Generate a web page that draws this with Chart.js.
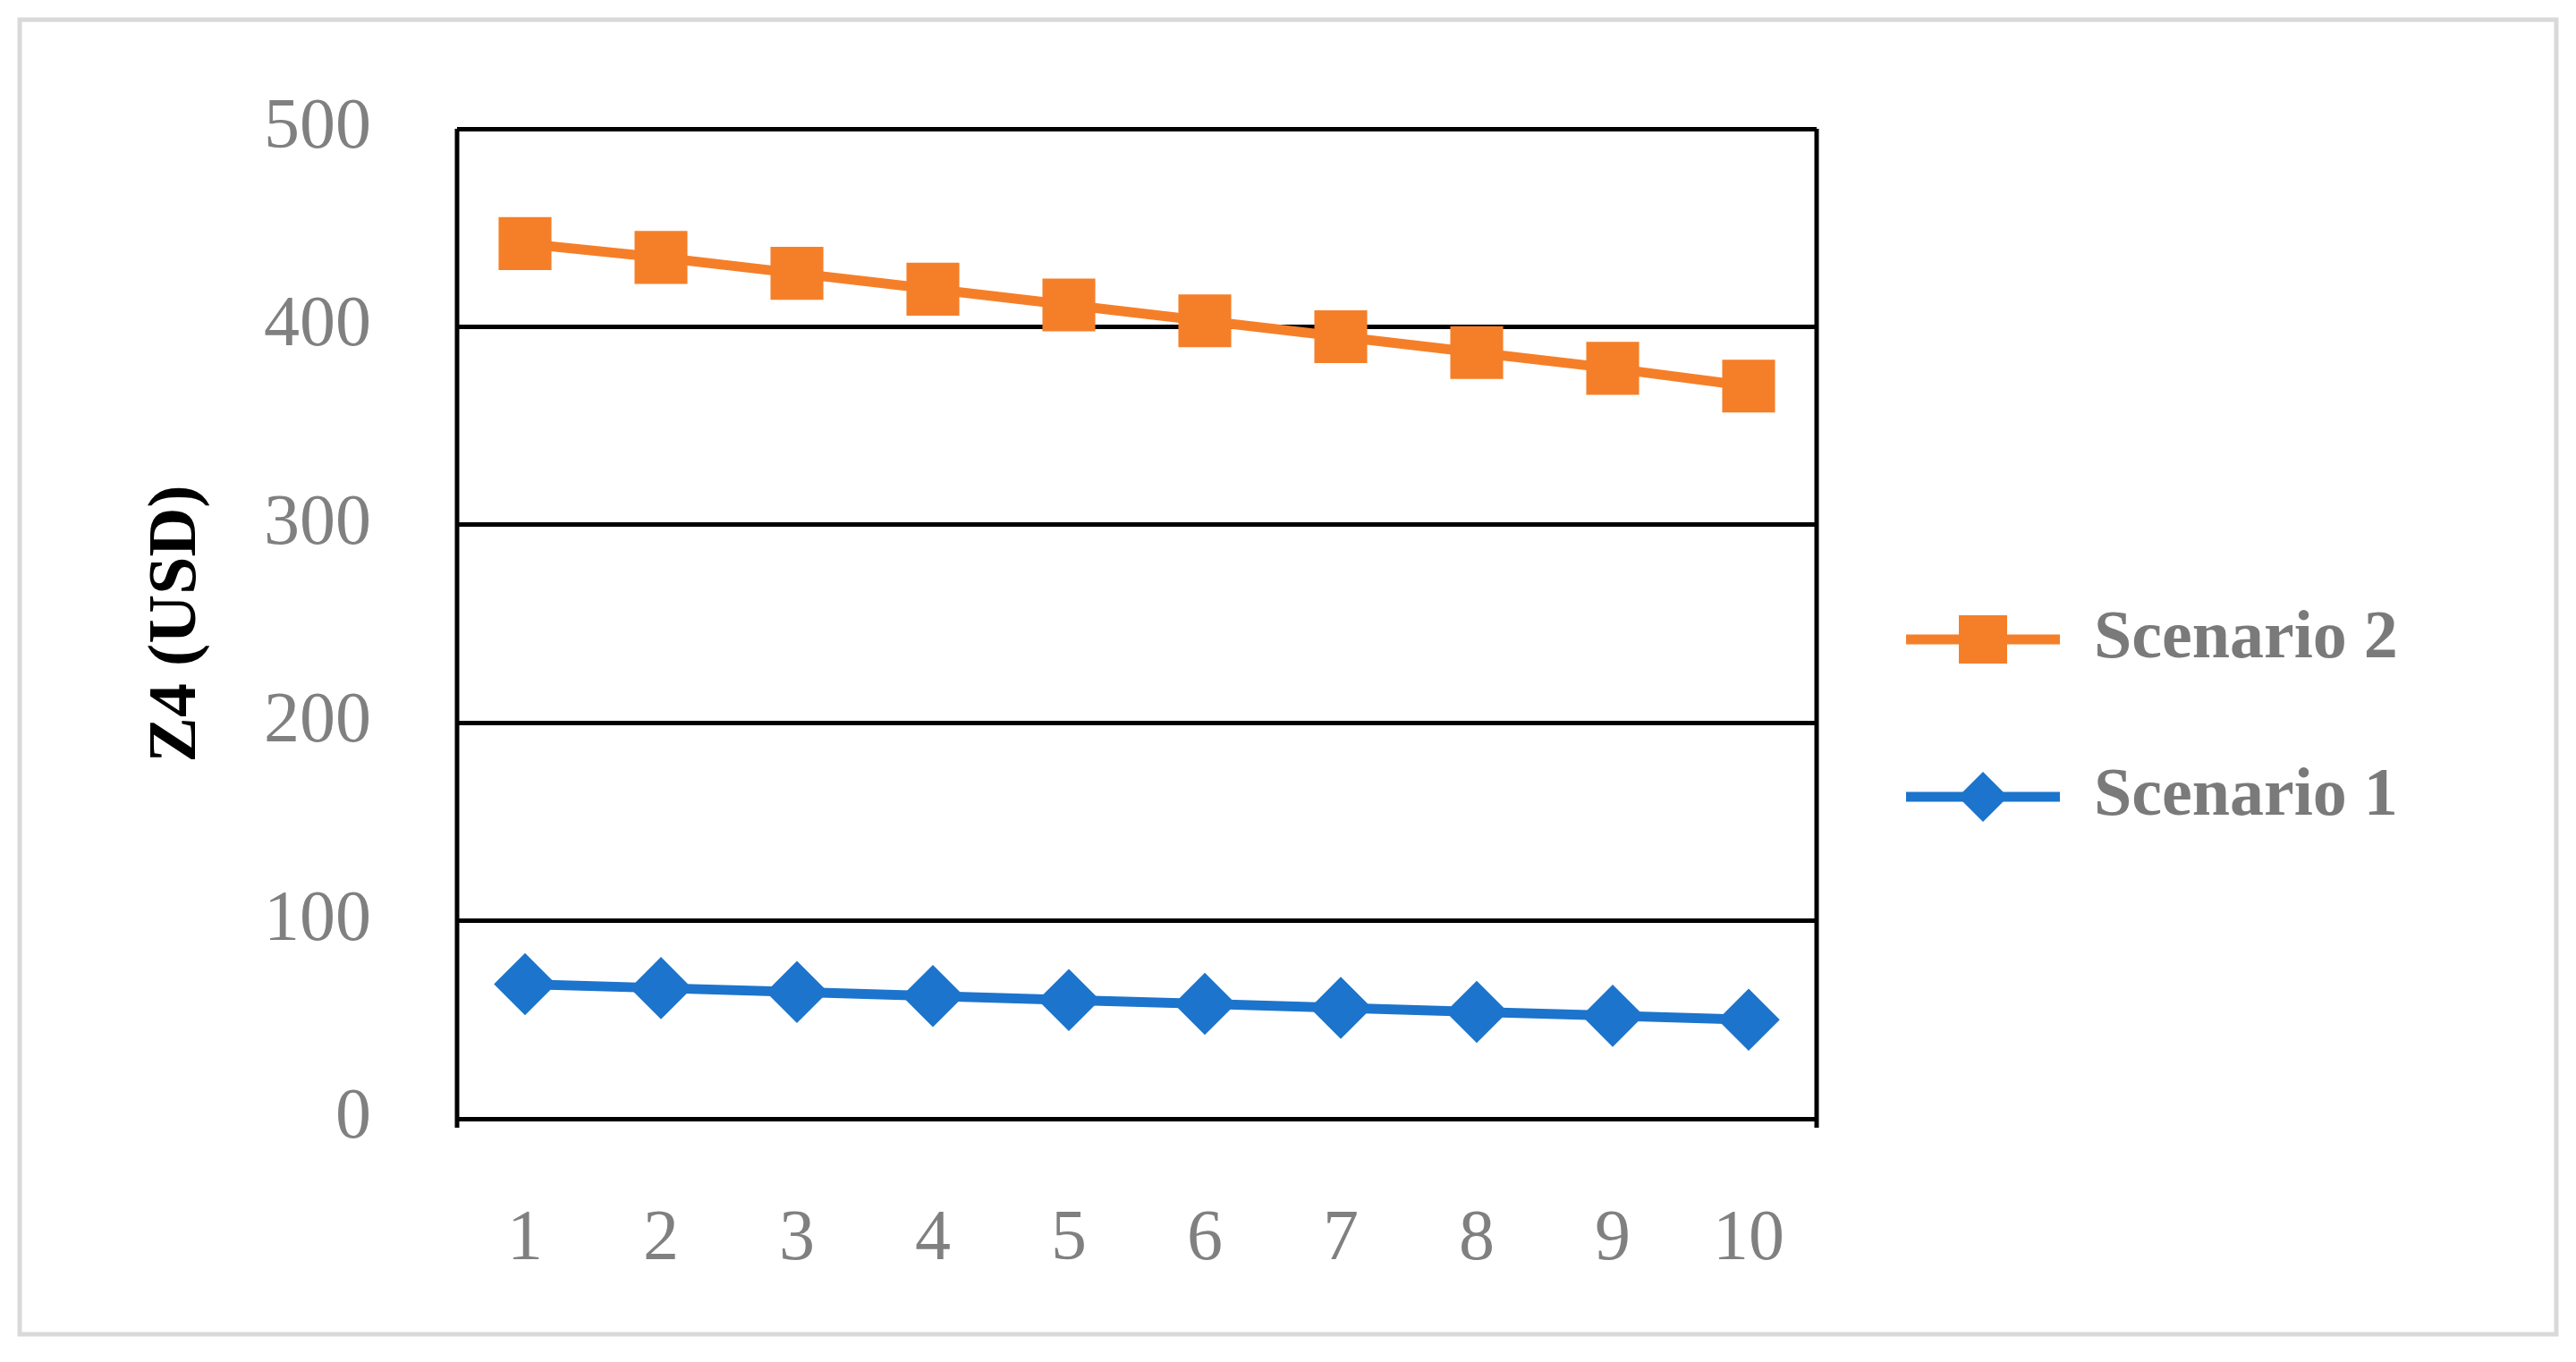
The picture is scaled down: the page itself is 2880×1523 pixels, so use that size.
<!DOCTYPE html>
<html><head><meta charset="utf-8">
<script src="https://cdn.jsdelivr.net/npm/chart.js@4"></script>
<style>html,body{margin:0;padding:0;background:#fff}#w{width:2880px;height:1523px}</style>
</head><body><div id="w"><canvas id="c"></canvas></div>
<script>
const categories = ['1','2','3','4','5','6','7','8','9','10'];
const scenario2 = [442, 435, 427, 419, 411, 403, 395, 387, 379, 370];
const scenario1 = [68, 66, 64, 62, 60, 58, 56, 54, 52, 50];
const yTicks = [0, 100, 200, 300, 400, 500];
const ORANGE = '#F57F29', BLUE = '#1C74CC';

function legendIcon(color, shape){
  const c = document.createElement('canvas'); c.width = 172; c.height = 64;
  const g = c.getContext('2d');
  g.strokeStyle = color; g.lineWidth = 11; g.beginPath(); g.moveTo(0,32); g.lineTo(172,32); g.stroke();
  g.fillStyle = color;
  if (shape === 'rect') g.fillRect(86-27, 32-27, 54, 54);
  else { g.beginPath(); g.moveTo(86,4); g.lineTo(114,32); g.lineTo(86,60); g.lineTo(58,32); g.closePath(); g.fill(); }
  return c;
}
const icons = [legendIcon(ORANGE,'rect'), legendIcon(BLUE,'diamond')];

const frame = {
  id: 'frame',
  beforeDraw(chart){
    const g = chart.ctx; g.save(); g.strokeStyle = '#d9d9d9'; g.lineWidth = 5;
    g.strokeRect(22, 22, 2836, 1470); g.restore();
  },
  beforeDatasetsDraw(chart){
    const a = chart.chartArea, g = chart.ctx; g.save(); g.strokeStyle = '#000'; g.lineWidth = 5;
    g.beginPath(); g.moveTo(a.left, a.top); g.lineTo(a.left, a.bottom + 10);
    g.moveTo(a.right, a.top); g.lineTo(a.right, a.bottom + 10); g.stroke(); g.restore();
  },
  afterInit(chart){
    const lg = chart.legend; if (!lg) return;
    const orig = lg.fit.bind(lg);
    lg.fit = function(){ orig(); this.width = 849; };
  }
};

new Chart(document.getElementById('c'), {
  type: 'line',
  data: {
    labels: categories,
    datasets: [
      { label: 'Scenario 2', data: scenario2, borderColor: ORANGE, backgroundColor: ORANGE, borderWidth: 11,
        pointStyle: 'rect', pointRadius: 34, pointHoverRadius: 34, tension: 0 },
      { label: 'Scenario 1', data: scenario1, borderColor: BLUE, backgroundColor: BLUE, borderWidth: 11,
        pointStyle: 'rectRot', pointRadius: 27, pointHoverRadius: 27, tension: 0 }
    ]
  },
  options: {
    responsive: true, maintainAspectRatio: false, animation: false,
    layout: { padding: { top: 110, bottom: 0, left: 153, right: 0 } },
    plugins: {
      tooltip: { enabled: false },
      legend: {
        position: 'right', align: 'start',
        title: { display: true, text: ' ', padding: { top: 455, bottom: 0 }, font: { size: 10 } },
        labels: {
          usePointStyle: true, pointStyleWidth: 172, padding: 100,
          color: '#7a7a7a', font: { family: 'Liberation Serif', size: 76, weight: 'bold' },
          generateLabels(chart){
            return chart.data.datasets.map((d, i) => ({
              text: d.label, pointStyle: icons[i], fillStyle: d.borderColor, strokeStyle: d.borderColor,
              lineWidth: 0, hidden: false, datasetIndex: i, fontColor: '#7a7a7a'
            }));
          }
        }
      }
    },
    scales: {
      x: {
        offset: true,
        grid: { display: false, drawTicks: false },
        border: { display: false },
        ticks: { color: '#808080', padding: 88, font: { family: 'Liberation Serif', size: 80 } }
      },
      y: {
        min: 0, max: 500,
        afterFit(s){ s.width = 358; },
        afterBuildTicks(s){ s.ticks = yTicks.map(v => ({ value: v })); },
        grid: { color: '#000', lineWidth: 5, drawTicks: false },
        border: { display: false },
        ticks: { color: '#808080', padding: 96, font: { family: 'Liberation Serif', size: 80 } },
        title: { display: true, text: 'Z4 (USD)', color: '#000', padding: { top: 0, bottom: 0 },
                 font: { family: 'Liberation Serif', size: 76, weight: 'bold' } }
      }
    }
  },
  plugins: [frame]
});
</script></body></html>
